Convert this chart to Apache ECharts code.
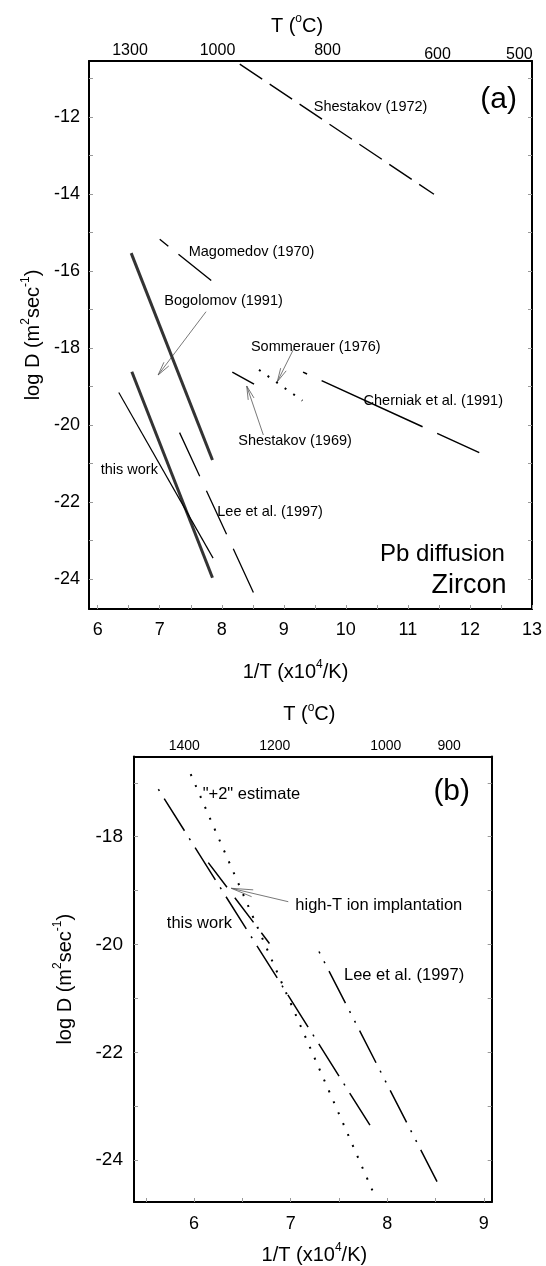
<!DOCTYPE html>
<html>
<head>
<meta charset="utf-8">
<script src="https://cdn.jsdelivr.net/npm/echarts@6/dist/echarts.min.js"></script>
<style>
html,body{margin:0;padding:0;background:#fff;}
#chart{width:546px;height:1266px;}
</style>
</head>
<body>
<div id="chart"></div>
<script>
// ---------- DATA (panel a) ----------
const xTickLabelsA = [6, 7, 8, 9, 10, 11, 12, 13];
const xMinorTicksA = [6, 6.5, 7, 7.5, 8, 8.5, 9, 9.5, 10, 10.5, 11, 11.5, 12, 12.5, 13];
const yTickLabelsA = [-24, -22, -20, -18, -16, -14, -12];
const yMinorTicksA = [-24, -23, -22, -21, -20, -19, -18, -17, -16, -15, -14, -13, -12, -11];
const topTickPosA = [6.521, 7.931, 9.704, 11.477, 12.796];
const topTickLabelsA = ['1300', '1000', '800', '600', '500'];

const shestakov1972 = [[8.29, -10.63], [11.42, -14.01]];
const magomedov1970 = [[7.00, -15.18], [7.83, -16.25]];
const bogolomov1991a = [[6.54, -15.54], [7.85, -20.91]];
const bogolomov1991b = [[6.55, -18.62], [7.85, -23.97]];
const thisWorkA = [[6.34, -19.16], [7.86, -23.46]];
const lee1997A = [[7.32, -20.20], [8.53, -24.42]];
const shestakov1969 = [[8.17, -18.63], [8.52, -18.94]];
const sommerauer1976 = [[8.60, -18.57], [9.30, -19.37]];
const cherniak1991 = [[9.31, -18.63], [12.15, -20.72]];

// ---------- DATA (panel b) ----------
const xTickLabelsB = [6, 7, 8, 9];
const xMinorTicksB = [5.5, 6, 6.5, 7, 7.5, 8, 8.5, 9];
const yTickLabelsB = [-24, -22, -20, -18];
const yMinorTicksB = [-24, -23, -22, -21, -20, -19, -18, -17];
const topTickPosB = [5.899, 6.835, 7.985, 8.641];
const topTickLabelsB = ['1400', '1200', '1000', '900'];

const thisWorkB = [[5.63, -17.12], [7.855, -23.45]];
const plus2Estimate = [[5.965, -16.84], [7.855, -24.60]];
const highTImplant = [[6.147, -18.48], [6.78, -19.98]];
const lee1997B = [[7.293, -20.13], [8.515, -24.40]];

// ---------- annotations (data units) ----------
const arrowsA = [
  [7.746, -17.060, 6.974, -18.704],   // Bogolomov
  [9.164, -18.010, 8.895, -18.878],   // Sommerauer
  [8.670, -20.262, 8.402, -18.989]    // Shestakov 1969
];
const arrowsB = [
  [6.975, -19.206, 6.385, -18.957]    // high-T ion implantation
];
const labelsA = [
  ['Shestakov (1972)', 9.483, -11.752],
  ['Magomedov (1970)', 7.467, -15.502],
  ['Bogolomov (1991)', 7.074, -16.782],
  ['Sommerauer (1976)', 8.470, -17.984],
  ['Cherniak et al. (1991)', 10.285, -19.366],
  ['Shestakov (1969)', 8.265, -20.405],
  ['this work', 6.049, -21.179],
  ['Lee et al. (1997)', 7.928, -22.274]
];
const labelsB = [
  ['"+2" estimate', 6.089, -17.208],
  ['high-T ion implantation', 7.048, -19.267],
  ['this work', 5.718, -19.607],
  ['Lee et al. (1997)', 7.552, -20.566]
];
const bigLabelsA = [
  ['(a)', 12.462, -11.563, 'center'],
  ['Pb diffusion', 12.564, -23.360, 'right'],
  ['Zircon', 12.591, -24.175, 'right']
];
const bigLabelsB = [
  ['(b)', 8.667, -17.165, 'center']
];

// ---------- chart ----------
const FONT = '"Liberation Sans", Arial, Helvetica, sans-serif';
const chart = echarts.init(document.getElementById('chart'), null, {renderer: 'canvas'});

// top labels of panel a: the last two sit a little lower in the original
const topLabelStyleA = ['hi', 'hi', 'hi', 'lo', 'lo'];
const topLabelStyleB = ['lo', 'lo', 'lo', 'lo'];

function lookup(pos, labels, styles) {
  return function (v) {
    for (let i = 0; i < pos.length; i++) if (Math.abs(pos[i] - v) < 1e-6) return '{' + styles[i] + '|' + labels[i] + '}';
    return '';
  };
}
const supRich = (size, lh) => ({
  n: {fontSize: size, fontFamily: FONT, color: '#000', lineHeight: lh},
  s: {fontSize: Math.round(size * 0.62), fontFamily: FONT, color: '#000', verticalAlign: 'top', lineHeight: Math.round(size * 0.62)}
});

function bottomAxis(grid, min, max, labels, ticks, name, nameGap, padding, fsz, margin) {
  return {
    type: 'value', gridIndex: grid, position: 'bottom', min: min, max: max,
    axisLine: {show: true, onZero: false, lineStyle: {color: '#000', width: 2}},
    axisTick: {show: true, inside: true, length: 4, customValues: ticks, lineStyle: {color: '#999', width: 1}},
    axisLabel: {show: true, customValues: labels, margin: margin, fontSize: fsz, fontFamily: FONT, color: '#000'},
    splitLine: {show: false},
    name: name, nameLocation: 'middle', nameGap: nameGap,
    nameTextStyle: {padding: padding, rich: supRich(20, 26)}
  };
}
function topAxis(grid, min, max, pos, labels, styles, name, nameGap, padding, fsz, margin) {
  return {
    type: 'value', gridIndex: grid, position: 'top', min: min, max: max,
    axisLine: {show: true, onZero: false, lineStyle: {color: '#000', width: 2}},
    axisTick: {show: false},
    axisLabel: {show: true, customValues: pos, formatter: lookup(pos, labels, styles), margin: margin,
      rich: {
        hi: {fontSize: fsz, fontFamily: FONT, color: '#000', padding: [0, 0, 4, 0]},
        lo: {fontSize: fsz, fontFamily: FONT, color: '#000', padding: [0, 0, 0, 0]}
      }},
    splitLine: {show: false},
    name: name, nameLocation: 'middle', nameGap: nameGap,
    nameTextStyle: {padding: padding, rich: supRich(20, 26)}
  };
}
function leftAxis(grid, min, max, labels, ticks, name, nameGap, fsz, margin) {
  return {
    type: 'value', gridIndex: grid, position: 'left', min: min, max: max,
    axisLine: {show: true, onZero: false, lineStyle: {color: '#000', width: 2}},
    axisTick: {show: true, inside: true, length: 4, customValues: ticks, lineStyle: {color: '#999', width: 1}},
    axisLabel: {show: true, customValues: labels, margin: margin, fontSize: fsz, fontFamily: FONT, color: '#000'},
    splitLine: {show: false},
    name: name, nameLocation: 'middle', nameGap: nameGap, nameRotate: 90,
    nameTextStyle: {rich: supRich(20, 26)}
  };
}
function rightAxis(grid, min, max, ticks) {
  return {
    type: 'value', gridIndex: grid, position: 'right', min: min, max: max,
    axisLine: {show: true, onZero: false, lineStyle: {color: '#000', width: 2}},
    axisTick: {show: true, inside: true, length: 4, customValues: ticks, lineStyle: {color: '#999', width: 1}},
    axisLabel: {show: false},
    splitLine: {show: false}
  };
}
function seg(data, xi, yi, style) {
  return {
    type: 'line', xAxisIndex: xi, yAxisIndex: yi, data: data, symbol: 'none', silent: true,
    animation: false, clip: false,
    lineStyle: Object.assign({color: '#000', width: 1.4, cap: 'butt'}, style)
  };
}
function arrowSeries(data, xi, yi, headLen, headAng) {
  return {
    type: 'custom', xAxisIndex: xi, yAxisIndex: yi, data: data, silent: true, animation: false, clip: false,
    encode: {x: [0, 2], y: [1, 3]},
    renderItem: function (params, api) {
      const a = api.coord([api.value(0), api.value(1)]);
      const b = api.coord([api.value(2), api.value(3)]);
      const ang = Math.atan2(a[1] - b[1], a[0] - b[0]);
      const h1 = [b[0] + headLen * Math.cos(ang + headAng), b[1] + headLen * Math.sin(ang + headAng)];
      const h2 = [b[0] + headLen * Math.cos(ang - headAng), b[1] + headLen * Math.sin(ang - headAng)];
      const st = {stroke: '#555', lineWidth: 0.8, fill: null};
      return {type: 'group', children: [
        {type: 'line', shape: {x1: a[0], y1: a[1], x2: b[0], y2: b[1]}, style: st},
        {type: 'polyline', shape: {points: [h1, b, h2]}, style: st}
      ]};
    }
  };
}
// text annotations placed through the axes (anchor in data units)
function textSeries(items, xi, yi, fsz) {
  return {
    type: 'custom', xAxisIndex: xi, yAxisIndex: yi, silent: true, animation: false, clip: false,
    data: items.map(function (it) { return [it[1], it[2]]; }),
    encode: {x: 0, y: 1},
    renderItem: function (params, api) {
      const it = items[params.dataIndex];
      const p = api.coord([api.value(0), api.value(1)]);
      return {type: 'text', x: p[0], y: p[1], style: {
        text: it[0], fill: '#000', font: fsz + 'px ' + FONT,
        align: it[3] || 'left', verticalAlign: 'middle'
      }};
    }
  };
}

const AX = {xmin: 5.86, xmax: 13, ymin: -24.78, ymax: -10.55};
const BX = {xmin: 5.378, xmax: 9.081, ymin: -24.777, ymax: -16.512};

const option = {
  backgroundColor: '#fff',
  animation: false,
  grid: [
    {left: 89, top: 61, width: 443, height: 548, containLabel: false, outerBoundsMode: 'none'},
    {left: 134, top: 756.5, width: 357.7, height: 445.5, containLabel: false, outerBoundsMode: 'none'}
  ],
  xAxis: [
    bottomAxis(0, AX.xmin, AX.xmax, xTickLabelsA, xMinorTicksA, '{n|1/T (x10}{s|4}{n|/K)}', 50, [0, 30, 0, 0], 18, 12),
    topAxis(0, AX.xmin, AX.xmax, topTickPosA, topTickLabelsA, topLabelStyleA, '{n|T (}{s|o}{n|C)}', 22, [0, 27, 0, 0], 16, -2),
    bottomAxis(1, BX.xmin, BX.xmax, xTickLabelsB, xMinorTicksB, '{n|1/T (x10}{s|4}{n|/K)}', 40, [0, 0, 0, 3], 18, 13),
    topAxis(1, BX.xmin, BX.xmax, topTickPosB, topTickLabelsB, topLabelStyleB, '{n|T (}{s|o}{n|C)}', 29, [0, 7, 0, 0], 14, 3)
  ],
  yAxis: [
    leftAxis(0, AX.ymin, AX.ymax, yTickLabelsA, yMinorTicksA, '{n|log D (m}{s|2}{n|sec}{s|-1}{n|)}', 40, 18, 9),
    rightAxis(0, AX.ymin, AX.ymax, yMinorTicksA),
    leftAxis(1, BX.ymin, BX.ymax, yTickLabelsB, yMinorTicksB, '{n|log D (m}{s|2}{n|sec}{s|-1}{n|)}', 56, 19, 11),
    rightAxis(1, BX.ymin, BX.ymax, yMinorTicksB)
  ],
  series: [
    // panel a
    seg(shestakov1972, 0, 0, {type: [27, 9], width: 1.4}),
    seg(magomedov1970, 0, 0, {type: [42, 13], dashOffset: 31, width: 1.4}),
    seg(bogolomov1991a, 0, 0, {width: 3, color: '#333'}),
    seg(bogolomov1991b, 0, 0, {width: 3, color: '#333'}),
    seg(thisWorkA, 0, 0, {width: 1.2}),
    seg(lee1997A, 0, 0, {type: [48, 16], width: 1.3}),
    seg(shestakov1969, 0, 0, {width: 1.5}),
    seg(sommerauer1976, 0, 0, {type: [2, 8.5], width: 2}),
    seg(cherniak1991, 0, 0, {type: [111, 16], dashOffset: 106.6, width: 1.5}),
    arrowSeries(arrowsA, 0, 0, 14, 0.22),
    textSeries(labelsA, 0, 0, 14.5),
    textSeries(bigLabelsA.slice(0, 1), 0, 0, 30),
    textSeries(bigLabelsA.slice(1, 2), 0, 0, 24),
    textSeries(bigLabelsA.slice(2, 3), 0, 0, 27),
    // panel b
    seg(thisWorkB, 2, 2, {type: [2, 9, 38, 9], width: 1.5}),
    seg(plus2Estimate, 2, 2, {type: [2, 9.9], width: 2}),
    seg(highTImplant, 2, 2, {type: [31, 13], width: 1.5}),
    seg(lee1997B, 2, 2, {type: [2, 9, 2, 9, 36, 9], width: 1.5}),
    arrowSeries(arrowsB, 2, 2, 22, 0.16),
    textSeries(labelsB, 2, 2, 16.5),
    textSeries(bigLabelsB, 2, 2, 30)
  ]
};
chart.setOption(option);
</script>
</body>
</html>
